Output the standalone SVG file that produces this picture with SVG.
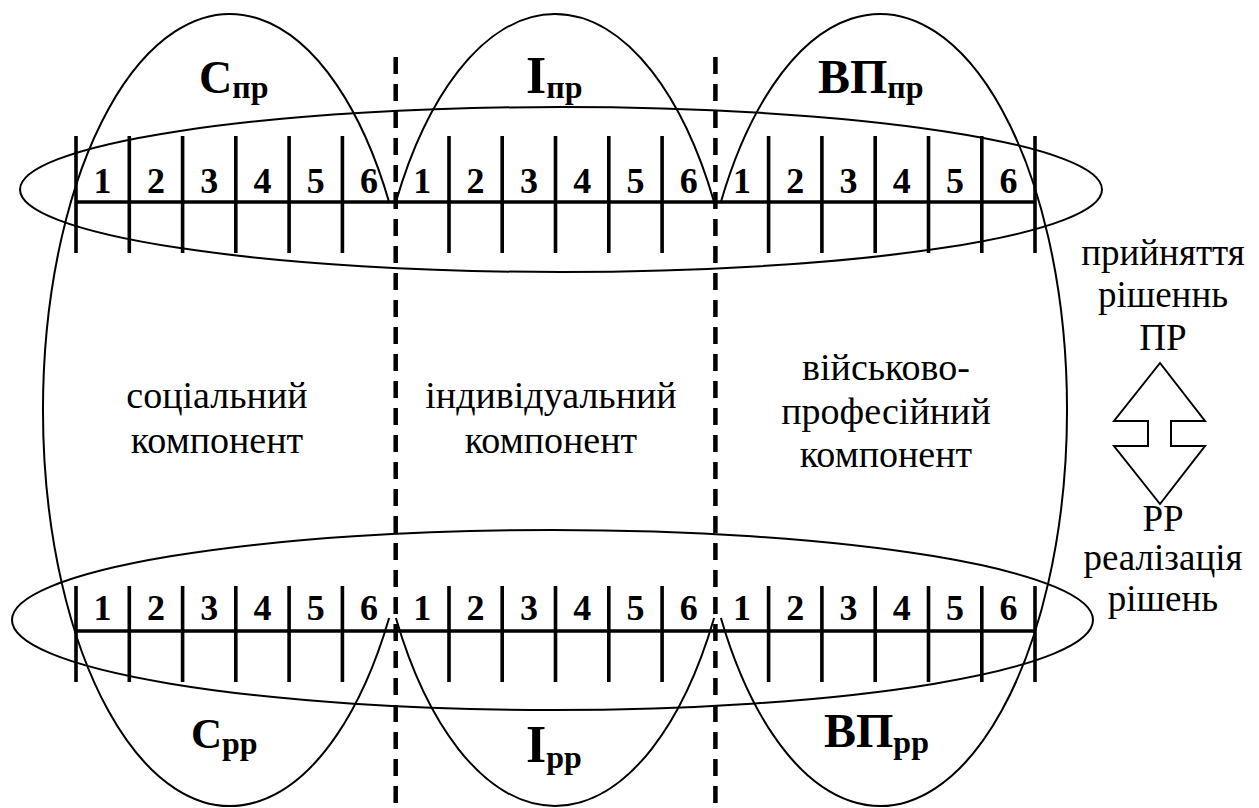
<svg xmlns="http://www.w3.org/2000/svg" width="1259" height="808" viewBox="0 0 1259 808">
<style>
.thin{fill:none;stroke:#000;stroke-width:2}
.rule{fill:none;stroke:#000;stroke-width:3.6}
.dash{fill:none;stroke:#000;stroke-width:4.5;stroke-dasharray:17 10}
.num{font-family:"Liberation Serif","Tinos","Times New Roman","DejaVu Serif",serif;font-weight:bold;font-size:36px;text-anchor:middle;fill:#000}
.lbl{font-family:"Liberation Serif","Tinos","Times New Roman","DejaVu Serif",serif;font-weight:bold;fill:#000}
.sub{font-size:32px}
.txt{font-family:"Liberation Serif","Tinos","Times New Roman","DejaVu Serif",serif;font-size:38px;text-anchor:middle;fill:#000}
.side{font-family:"Liberation Serif","Tinos","Times New Roman","DejaVu Serif",serif;font-size:37px;text-anchor:middle;fill:#000}
</style>
<rect width="1259" height="808" fill="#fff"/>

<g id="component-social">
  <path class="thin" d="M 389.1 202 A 187 396 0 1 0 389.1 618"/>
  <text class="txt" x="217" y="408">соціальний</text>
  <text class="txt" x="217" y="453">компонент</text>
  <text class="lbl" x="199" y="93" font-size="46">С<tspan class="sub" dy="5">пр</tspan></text>
  <text class="lbl" x="191" y="748" font-size="43">С<tspan class="sub" dy="6">рр</tspan></text>
</g>

<g id="component-individual">
  <path class="thin" d="M 395.9 202 A 187 396 0 0 1 714.1 202"/>
  <path class="thin" d="M 395.9 618 A 187 396 0 0 0 714.1 618"/>
  <text class="txt" x="551" y="408">індивідуальний</text>
  <text class="txt" x="551" y="453">компонент</text>
  <text class="lbl" x="526" y="93" font-size="52">І<tspan class="sub" dy="5">пр</tspan></text>
  <text class="lbl" x="526" y="762" font-size="52">І<tspan class="sub" dy="6">рр</tspan></text>
</g>

<g id="component-military">
  <path class="thin" d="M 720.9 202 A 187 396 0 1 1 720.9 618"/>
  <text class="txt" x="886" y="380">військово-</text>
  <text class="txt" x="886" y="424">професійний</text>
  <text class="txt" x="886" y="467">компонент</text>
  <text class="lbl" x="818" y="93" font-size="48">ВП<tspan class="sub" dy="5">пр</tspan></text>
  <text class="lbl" x="824" y="747" font-size="48">ВП<tspan class="sub" dy="6">рр</tspan></text>
</g>

<g id="dividers">
  <line class="dash" x1="395.7" y1="57" x2="395.7" y2="808"/>
  <line class="dash" x1="715.4" y1="57" x2="715.4" y2="808"/>
</g>

<g id="decision-making-ellipse">
  <ellipse class="thin" cx="561" cy="189.5" rx="541" ry="82.5"/>
</g>
<g id="decision-realization-ellipse">
  <ellipse class="thin" cx="552.5" cy="620" rx="540.5" ry="90"/>
</g>

<g id="ruler-top">
  <line class="rule" x1="76" y1="202" x2="1035" y2="202"/>
  <path class="rule" d="M76 136V253M129.3 136V253M182.6 136V253M235.8 136V253M289.1 136V253M342.4 136V253M449 136V253M502.2 136V253M555.5 136V253M608.8 136V253M662.1 136V253M768.6 136V253M821.9 136V253M875.2 136V253M928.5 136V253M981.8 136V253M1035 136V253"/>
  <text class="num" y="193"><tspan x="102.6">1</tspan><tspan x="155.9">2</tspan><tspan x="209.2">3</tspan><tspan x="262.5">4</tspan><tspan x="315.8">5</tspan><tspan x="369">6</tspan><tspan x="422.3">1</tspan><tspan x="475.6">2</tspan><tspan x="528.9">3</tspan><tspan x="582.2">4</tspan><tspan x="635.4">5</tspan><tspan x="688.7">6</tspan><tspan x="742">1</tspan><tspan x="795.3">2</tspan><tspan x="848.6">3</tspan><tspan x="901.8">4</tspan><tspan x="955.1">5</tspan><tspan x="1008.4">6</tspan></text>
</g>

<g id="ruler-bottom">
  <line class="rule" x1="76" y1="631" x2="1035" y2="631"/>
  <path class="rule" d="M76 586V682M129.3 586V682M182.6 586V682M235.8 586V682M289.1 586V682M342.4 586V682M449 586V682M502.2 586V682M555.5 586V682M608.8 586V682M662.1 586V682M768.6 586V682M821.9 586V682M875.2 586V682M928.5 586V682M981.8 586V682M1035 586V682"/>
  <text class="num" y="620"><tspan x="102.6">1</tspan><tspan x="155.9">2</tspan><tspan x="209.2">3</tspan><tspan x="262.5">4</tspan><tspan x="315.8">5</tspan><tspan x="369">6</tspan><tspan x="422.3">1</tspan><tspan x="475.6">2</tspan><tspan x="528.9">3</tspan><tspan x="582.2">4</tspan><tspan x="635.4">5</tspan><tspan x="688.7">6</tspan><tspan x="742">1</tspan><tspan x="795.3">2</tspan><tspan x="848.6">3</tspan><tspan x="901.8">4</tspan><tspan x="955.1">5</tspan><tspan x="1008.4">6</tspan></text>
</g>

<g id="node-decision-making">
  <text class="side" x="1163" y="265">прийняття</text>
  <text class="side" x="1163" y="307">рішеннь</text>
  <text class="side" x="1163" y="350">ПР</text>
</g>
<g id="node-decision-realization">
  <text class="side" x="1163" y="531">РР</text>
  <text class="side" x="1163" y="570">реалізація</text>
  <text class="side" x="1163" y="611">рішень</text>
</g>

<g id="connectors">
  <polygon class="thin" style="fill:#fff" points="1160,363 1205,421 1171,421 1171,446 1205,446 1160,504 1114,446 1148,446 1148,421 1114,421"/>
</g>
</svg>
